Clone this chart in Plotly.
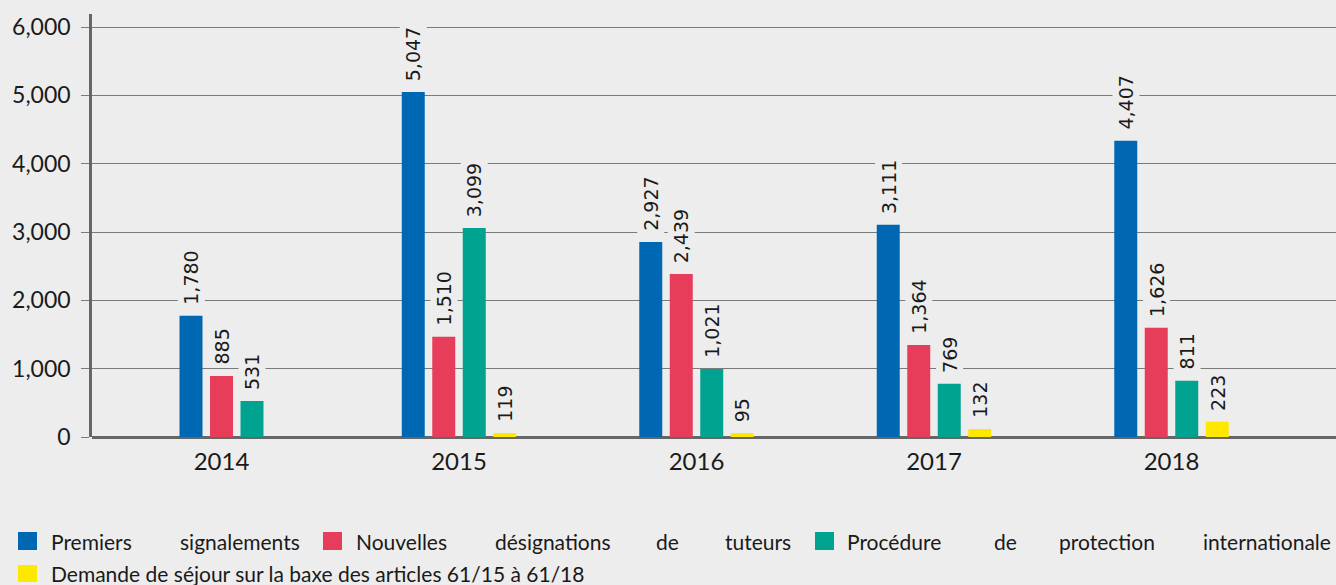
import plotly.graph_objects as go

# ---------------- data ----------------
years = ["2014", "2015", "2016", "2017", "2018"]
series_names = [
    "Premiers signalements",
    "Nouvelles désignations de tuteurs",
    "Procédure de protection internationale",
    "Demande de séjour sur la baxe des articles 61/15 à 61/18",
]
# bar lengths as drawn in the picture
premiers = [1775, 5049, 2853, 3106, 4335]
nouvelles = [893, 1468, 2385, 1346, 1599]
procedure = [527, 3059, 995, 780, 824]
demande = [None, 58, 58, 117, 224]
# printed value labels
premiers_lbl = ["1,780", "5,047", "2,927", "3,111", "4,407"]
nouvelles_lbl = ["885", "1,510", "2,439", "1,364", "1,626"]
procedure_lbl = ["531", "3,099", "1,021", "769", "811"]
demande_lbl = [None, "119", "95", "132", "223"]
y_ticks = [0, 1000, 2000, 3000, 4000, 5000, 6000]
y_ticklabels = ["0", "1,000", "2,000", "3,000", "4,000", "5,000", "6,000"]

# ---------------- style ----------------
colors = ["#0068b3", "#e83c5b", "#00a390", "#ffe800"]
BG = "#ededed"
W, H = 1336, 585
AXIS_LEFT, PLOT_TOP, PLOT_BOTTOM = 92, 14, 437
BAR_W = 0.0968      # bar width in category units
BAR_PITCH = 0.1284  # distance between bars in a group

values = [premiers, nouvelles, procedure, demande]
labels = [premiers_lbl, nouvelles_lbl, procedure_lbl, demande_lbl]

fig = go.Figure()
annotations = []
for s, (vals, lbls) in enumerate(zip(values, labels)):
    xs, ys, offs = [], [], []
    for c, v in enumerate(vals):
        n = sum(1 for ser in values if ser[c] is not None)
        off = (s - n / 2) * BAR_PITCH + (BAR_PITCH - BAR_W) / 2
        xs.append(c)
        ys.append(v)
        offs.append(off)
        if v is not None:
            annotations.append(dict(
                x=c + off + BAR_W / 2, y=v, xref="x", yref="y",
                text=lbls[c], textangle=-90, showarrow=False,
                xanchor="center", yanchor="bottom", yshift=8,
                bgcolor=BG, borderpad=2,
                font=dict(family="DejaVu Sans", size=19, color="#1a1a1a"),
            ))
    fig.add_trace(go.Bar(
        x=xs, y=ys, offset=offs, width=BAR_W, name=series_names[s],
        marker=dict(color=colors[s], line=dict(width=0)),
        showlegend=False, hoverinfo="skip",
    ))

# custom justified legend (row 1 words spread across the width)
legend_font = dict(family="Lato", size=21, color="#1a1a1a")
row1_words_x = [[49, 178], [354, 493, 654, 723], [845, 992, 1057, 1201]]
row1_square_x = [18, 323, 815]
row_y = [541, 573]
shapes = []
for s in range(3):
    x0 = row1_square_x[s]
    shapes.append(dict(type="rect", xref="paper", yref="paper",
                       x0=x0 / W, x1=(x0 + 19) / W,
                       y0=1 - (row_y[0] + 9) / H, y1=1 - (row_y[0] - 9) / H,
                       fillcolor=colors[s], line=dict(width=0)))
    for word, wx in zip(series_names[s].split(" "), row1_words_x[s]):
        annotations.append(dict(x=wx / W, y=1 - row_y[0] / H, xref="paper", yref="paper",
                                text=word, showarrow=False, xanchor="left", yanchor="middle",
                                font=legend_font))
shapes.append(dict(type="rect", xref="paper", yref="paper",
                   x0=18 / W, x1=37 / W,
                   y0=1 - (row_y[1] + 9) / H, y1=1 - (row_y[1] - 8) / H,
                   fillcolor=colors[3], line=dict(width=0)))
annotations.append(dict(x=49 / W, y=1 - row_y[1] / H, xref="paper", yref="paper",
                        text=series_names[3], showarrow=False, xanchor="left", yanchor="middle",
                        font=legend_font))

# category positions: 2015..2018 at 459, 696.5, 934, 1171.5 px
cat_px = 237.5
x0_range = -(459 - cat_px - AXIS_LEFT) / cat_px
x1_range = x0_range + (W - AXIS_LEFT) / cat_px

fig.update_layout(
    width=W, height=H,
    margin=dict(l=0, r=0, t=0, b=0),
    paper_bgcolor=BG, plot_bgcolor=BG,
    barmode="overlay",
    annotations=annotations, shapes=shapes,
    showlegend=False,
    xaxis=dict(
        domain=[AXIS_LEFT / W, 1],
        range=[x0_range, x1_range],
        tickmode="array", tickvals=list(range(len(years))), ticktext=years,
        showgrid=False, zeroline=False, showline=False, ticks="",
        ticklabelstandoff=8,
        tickfont=dict(family="Lato", size=24, color="#1a1a1a"),
        automargin=False, fixedrange=True,
    ),
    yaxis=dict(
        domain=[1 - PLOT_BOTTOM / H, 1 - PLOT_TOP / H],
        range=[0, 6000 * (PLOT_BOTTOM - PLOT_TOP) / (PLOT_BOTTOM - 27)],
        tickmode="array", tickvals=y_ticks, ticktext=y_ticklabels,
        showgrid=True, gridcolor="#7a7a7a", gridwidth=1.4,
        zeroline=True, zerolinecolor="#666666", zerolinewidth=2.5,
        showline=True, linecolor="#666666", linewidth=2.5,
        ticks="outside", ticklen=8, tickwidth=1.4, tickcolor="#7a7a7a",
        ticklabelstandoff=6,
        tickfont=dict(family="Lato", size=23, color="#1a1a1a"),
        automargin=False, fixedrange=True,
    ),
)

fig.write_html("out.html", config={"displayModeBar": False},
               post_script="document.body.style.margin='0';")
